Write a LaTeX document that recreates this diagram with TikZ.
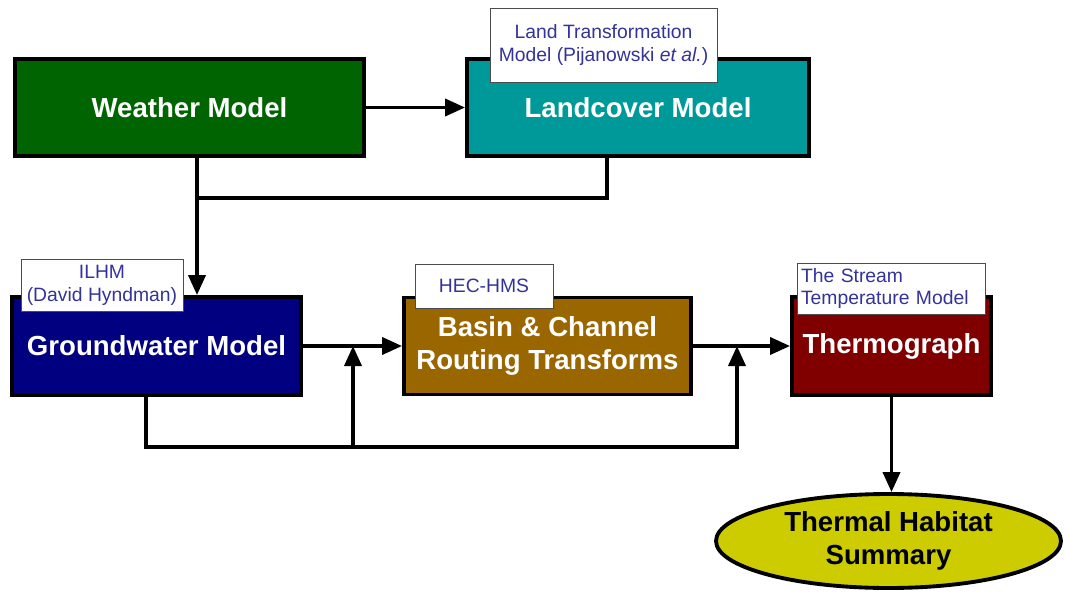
\documentclass[tikz,border=0pt]{standalone}
\usepackage{fontspec}
\setmainfont{Liberation Sans}
\usetikzlibrary{arrows.meta,shapes.geometric}

\definecolor{weathergreen}{RGB}{0,100,0}
\definecolor{landteal}{RGB}{0,153,153}
\definecolor{gwnavy}{RGB}{0,0,128}
\definecolor{basinbrown}{RGB}{153,102,0}
\definecolor{thermored}{RGB}{128,0,0}
\definecolor{habitatyellow}{RGB}{204,204,0}
\definecolor{tagblue}{RGB}{51,51,153}

\begin{document}
\begin{tikzpicture}[
		modelbox/.style={draw=black, line width=2.2pt, inner sep=0pt, text=white,
			font=\fontsize{15.7}{19}\selectfont\bfseries, align=center},
		tagbox/.style={draw=black!70, line width=0.5pt, fill=white, inner sep=0pt,
			text=tagblue, font=\fontsize{11}{13}\selectfont, align=center},
		conn/.style={line width=2.1pt},
		arr/.style={conn, -{Triangle[length=0.4cm, width=0.34cm]}}
	]

		\useasboundingbox (0, 0) rectangle (21.3, 11.94);

		% model boxes
		\node [modelbox, fill=weathergreen, minimum width=6.98cm, minimum height=1.94cm] (weather) at (3.79, 9.79) {Weather Model};
		\node [modelbox, fill=landteal, minimum width=6.84cm, minimum height=1.94cm] (landcover) at (12.76, 9.79) {Landcover Model};
		\node [modelbox, fill=gwnavy, minimum width=5.78cm, minimum height=1.96cm] (groundwater) at (3.13, 5.02) {Groundwater Model};
		\node [modelbox, fill=basinbrown, minimum width=5.74cm, minimum height=1.94cm] (basin) at (10.95, 5.02) {Basin \& Channel\\Routing Transforms};
		\node [modelbox, fill=thermored, minimum width=3.98cm, minimum height=1.96cm] (thermo) at (17.83, 5.02) {Thermograph};
		\node [modelbox, ellipse, fill=habitatyellow, text=black, minimum width=6.9cm, minimum height=1.88cm] (habitat) at (17.77, 1.12) {Thermal Habitat\\Summary};

		% tags
		\node [tagbox, minimum width=4.54cm, minimum height=1.48cm] (ltm) at (12.07, 11.04) {Land Transformation\\Model (Pijanowski \textit{et al.})};
		\node [tagbox, minimum width=3.24cm, minimum height=1.04cm] (ilhm) at (2.04, 6.24) {ILHM\\(David Hyndman)};
		\node [tagbox, minimum width=2.76cm, minimum height=0.88cm] (hec) at (9.68, 6.22) {HEC-HMS};
		\node [tagbox, minimum width=3.76cm, minimum height=1.02cm, text width=3.6cm, align=left] (stm) at (17.82, 6.17) {The Stream\\Temperature Model};

		% connectors
		\coordinate (join) at (3.94, 7.98);
		\coordinate (gwdrop) at (2.92, 3.0);
		\coordinate (fb1) at (7.06, 3.0);
		\coordinate (fb2) at (14.74, 3.0);

		\draw [arr] (weather) -- (landcover);
		\draw [arr] (join |- weather.south) -- (join |- groundwater.north);
		\draw [conn] (landcover.south -| 12.14, 0) |- (join);
		\draw [arr] (groundwater) -- (basin);
		\draw [arr] (basin) -- (thermo);
		\draw [arr] (gwdrop |- groundwater.south) -- (gwdrop) -- (fb2) -- (fb2 |- basin.east);
		\draw [arr] (fb1) -- (fb1 |- basin.west);
		\draw [arr] (thermo.south) -- (thermo.south |- habitat.north);
	\end{tikzpicture}
\end{document}
